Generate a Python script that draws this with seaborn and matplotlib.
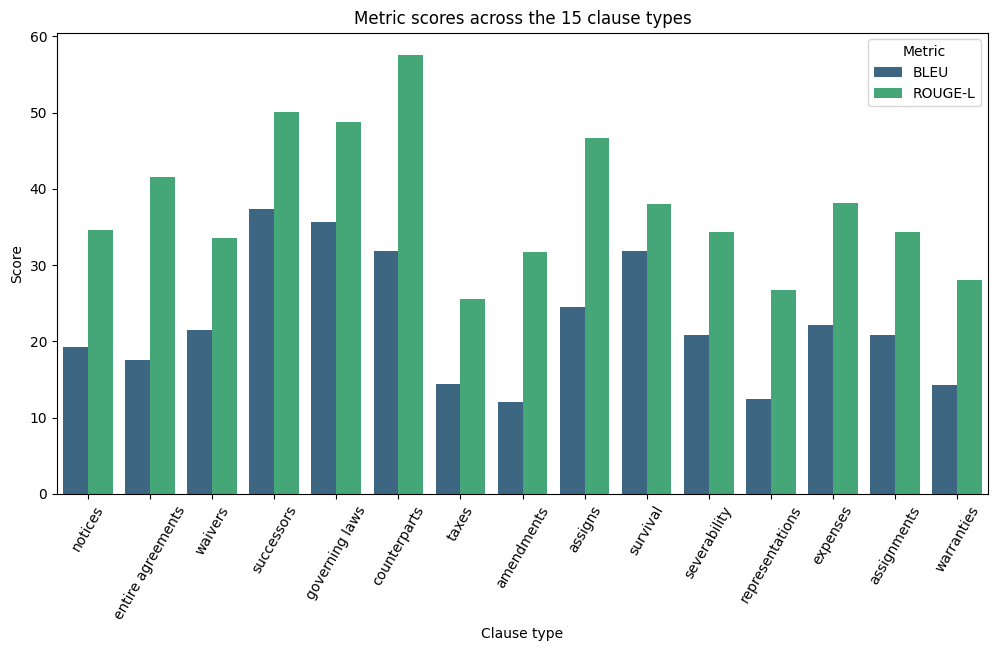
import pandas as pd
import seaborn as sns
import matplotlib
matplotlib.use("Agg")
import matplotlib.pyplot as plt

clause_types = ["notices", "entire agreements", "waivers", "successors", "governing laws",
                "counterparts", "taxes", "amendments", "assigns", "survival",
                "severability", "representations", "expenses", "assignments", "warranties"]
bleu = [19.2, 17.5, 21.5, 37.4, 35.7, 31.8, 14.4, 12.0, 24.5, 31.8, 20.8, 12.4, 22.1, 20.8, 14.3]
rouge_l = [34.6, 41.6, 33.5, 50.1, 48.8, 57.6, 25.6, 31.7, 46.7, 38.0, 34.4, 26.8, 38.1, 34.4, 28.1]

df = pd.DataFrame({
    "Clause type": clause_types * 2,
    "Score": bleu + rouge_l,
    "Metric": ["BLEU"] * len(bleu) + ["ROUGE-L"] * len(rouge_l),
})

fig, ax = plt.subplots(figsize=(9.96, 6.51), dpi=100)
sns.barplot(data=df, x="Clause type", y="Score", hue="Metric", palette="viridis", ax=ax)
ax.set_title("Metric scores across the 15 clause types")
ax.set_xlabel("Clause type")
ax.set_ylabel("Score")
ax.tick_params(axis="x", labelrotation=60)
ax.legend(title="Metric", loc="upper right")

plt.subplots_adjust(left=0.0572, right=0.992, top=0.950, bottom=0.2412)
plt.savefig("out.png", dpi=100)
